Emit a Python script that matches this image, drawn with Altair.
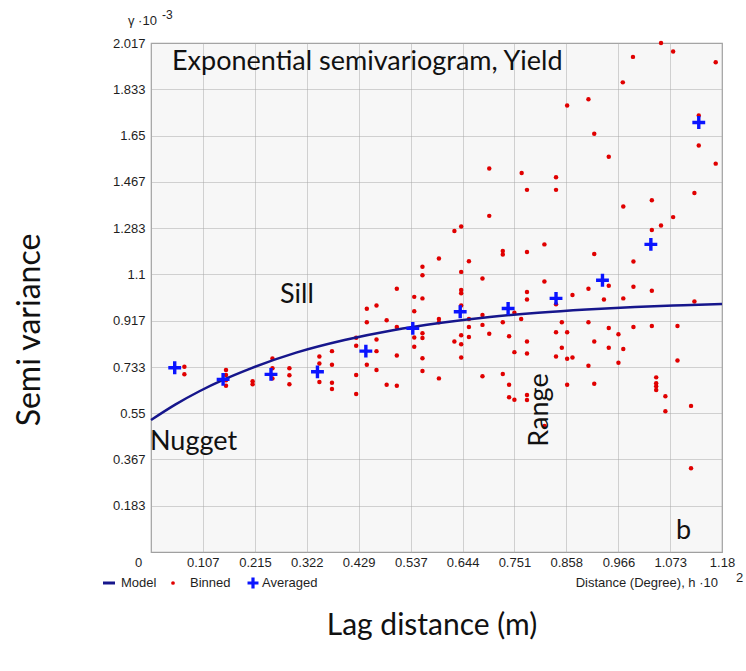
import altair as alt
import pandas as pd

# ---------------- data ----------------
binned_h = [0.069, 0.069, 0.155, 0.155, 0.155, 0.155, 0.210, 0.210, 0.251, 0.251,
            0.251, 0.286, 0.286, 0.286, 0.348, 0.348, 0.348, 0.374, 0.374, 0.374,
            0.374, 0.424, 0.424, 0.424, 0.424, 0.446, 0.446, 0.446, 0.466, 0.466,
            0.466, 0.466, 0.487, 0.487, 0.508, 0.508, 0.508, 0.508, 0.544, 0.544,
            0.544, 0.544, 0.561, 0.561, 0.561, 0.561, 0.561, 0.561, 0.561, 0.595,
            0.595, 0.595, 0.595, 0.641, 0.627, 0.699, 0.657, 0.641, 0.685, 0.641,
            0.641, 0.641, 0.627, 0.641, 0.641, 0.641, 0.657, 0.657, 0.657, 0.685,
            0.685, 0.685, 0.699, 0.727, 0.727, 0.727, 0.727, 0.740, 0.740, 0.740,
            0.751, 0.751, 0.751, 0.765, 0.777, 0.777, 0.777, 0.777, 0.777, 0.777,
            0.777, 0.813, 0.813, 0.813, 0.837, 0.837, 0.837, 0.849, 0.849, 0.860,
            0.860, 0.860, 0.871, 0.871, 0.904, 0.904, 0.904, 0.916, 0.916, 0.916,
            0.936, 0.946, 0.946, 0.946, 0.966, 0.966, 0.976, 0.976, 0.976, 0.997,
            0.997, 0.997, 1.035, 1.035, 1.035, 1.035, 1.054, 1.079, 1.088, 1.088,
            1.044, 1.044, 1.044, 1.044, 1.063, 1.063, 1.116, 1.116, 1.123, 1.123,
            1.054, 1.079, 0.996, 1.167, 0.975, 0.904, 0.860, 1.132, 0.916, 1.132,
            1.167, 0.946, 0.699, 0.766, 0.837, 0.777, 0.837]
binned_v = [0.734, 0.704, 0.721, 0.701, 0.681, 0.659, 0.677, 0.665, 0.767, 0.728,
            0.688, 0.728, 0.700, 0.665, 0.775, 0.747, 0.674, 0.796, 0.742, 0.671,
            0.646, 0.849, 0.817, 0.701, 0.626, 0.964, 0.910, 0.742, 0.977, 0.842,
            0.796, 0.721, 0.918, 0.663, 1.043, 0.892, 0.779, 0.659, 1.011, 0.954,
            0.850, 0.813, 1.130, 1.097, 1.005, 0.867, 0.848, 0.768, 0.717, 1.163,
            0.923, 0.910, 0.688, 1.290, 1.272, 1.332, 1.152, 1.110, 1.084, 1.038,
            1.025, 0.977, 0.834, 0.859, 0.823, 0.771, 0.923, 0.892, 0.852, 0.939,
            0.900, 0.696, 0.865, 1.193, 1.179, 0.910, 0.705, 0.855, 0.663, 0.613,
            0.948, 0.792, 0.603, 0.923, 1.189, 1.030, 1.001, 0.834, 0.787, 0.622,
            0.602, 1.219, 1.072, 0.499, 0.982, 0.871, 0.775, 0.910, 0.809, 0.871,
            0.766, 0.663, 1.018, 0.771, 1.043, 0.910, 0.738, 1.181, 0.834, 0.667,
            1.001, 1.055, 0.888, 0.809, 0.863, 0.750, 1.369, 1.005, 0.804, 1.151,
            1.051, 0.892, 1.394, 1.276, 1.035, 0.896, 1.294, 1.327, 0.896, 0.759,
            0.692, 0.669, 0.657, 0.642, 0.617, 0.558, 0.579, 0.332, 0.993, 1.423,
            2.017, 1.983, 1.962, 1.941, 1.861, 1.794, 1.769, 1.730, 1.657, 1.611,
            1.539, 1.566, 1.520, 1.502, 1.485, 1.435, 1.435]

avg_h = [0.049, 0.149, 0.248, 0.344, 0.444, 0.541, 0.639, 0.738, 0.837, 0.933, 1.033, 1.132]
avg_v = [0.730, 0.684, 0.704, 0.714, 0.796, 0.886, 0.952, 0.965, 1.005, 1.077, 1.219, 1.702]

model_h = [0.0, 0.05, 0.1, 0.15, 0.2, 0.3, 0.4, 0.5, 0.6, 0.7, 0.8, 0.9, 1.0, 1.1, 1.18]
model_v = [0.523, 0.584, 0.637, 0.683, 0.723, 0.790, 0.840, 0.879, 0.908, 0.931,
           0.948, 0.961, 0.971, 0.978, 0.983]

x_ticks = [0, 0.107, 0.215, 0.322, 0.429, 0.537, 0.644, 0.751, 0.858, 0.966, 1.073, 1.18]
y_ticks = [0.183, 0.367, 0.55, 0.733, 0.917, 1.1, 1.283, 1.467, 1.65, 1.833, 2.017]

binned = pd.DataFrame({"h": binned_h, "v": binned_v})
averaged = pd.DataFrame({"h": avg_h, "v": avg_v})
model = pd.DataFrame({"h": model_h, "v": model_v})

# ---------------- styling ----------------
W, H = 571, 509
PAD = {"left": 151, "top": 43, "right": 746 - 151 - W, "bottom": 671 - 43 - H}
AXFONT = "Liberation Sans"
BIG = "Lato"
NAVY = "#16168c"
RED = "#e00000"
BLUE = "#0a14ff"
TXT = "#1e1e1e"
PLUS = "M-1,0L1,0M0,-1L0,1"

xs = alt.Scale(domain=[0, 1.18], nice=False, zero=False)
ys = alt.Scale(domain=[0, 2.017], nice=False, zero=False)

xaxis = alt.Axis(values=x_ticks, format=".4~g", title=None, ticks=False, domain=False,
                 labelFont=AXFONT, labelFontSize=13, labelColor=TXT, labelPadding=4,
                 labelOffset={"condition": {"test": "datum.value === 0", "value": -13}, "value": 0},
                 gridColor="#a8a8a8", gridDash=[1, 1], gridWidth=1, labelFlush=False)
yaxis = alt.Axis(values=y_ticks, format=".4~g", title=None, ticks=False, domain=False,
                 labelFont=AXFONT, labelFontSize=13, labelColor=TXT, labelPadding=6,
                 gridColor="#a8a8a8", gridDash=[1, 1], gridWidth=1)

pts = alt.Chart(binned).mark_circle(color=RED, size=20, opacity=1).encode(
    x=alt.X("h:Q", scale=xs, axis=xaxis),
    y=alt.Y("v:Q", scale=ys, axis=yaxis),
)
line = alt.Chart(model).mark_line(color=NAVY, strokeWidth=2.5, interpolate="monotone").encode(
    x=alt.X("h:Q", scale=xs), y=alt.Y("v:Q", scale=ys)
)
avg = alt.Chart(averaged).mark_point(shape=PLUS, filled=False, color=BLUE, strokeWidth=3.4,
                                     size=165, opacity=1).encode(
    x=alt.X("h:Q", scale=xs), y=alt.Y("v:Q", scale=ys)
)

one = alt.Data(values=[{}])


def label(text, x, y, size, font=BIG, angle=0, align="left", baseline="alphabetic", color="#111111"):
    return alt.Chart(one).mark_text(align=align, baseline=baseline, fontSize=size, font=font,
                                    angle=angle, color=color).encode(
        text=alt.value(text), x=alt.value(x), y=alt.value(y))


texts = [
    label("Exponential semivariogram, Yield", 21, 27, 27),
    label("Sill", 129, 260, 27),
    label("Nugget", -1, 407, 27),
    label("Range", 397, 367, 27, angle=270, align="center"),
    label("b", 525, 496, 27),
    label("Semi variance", -111, 287, 32, angle=270, align="center"),
    label("Lag distance (m)", 281, 592, 30, align="center"),
    label("γ ·10", -23, -22, 13, font=AXFONT, baseline="middle", color=TXT),
    label("-3", 11, -28, 12, font=AXFONT, baseline="middle", color=TXT),
    label("Model", -30, 540, 13, font=AXFONT, baseline="middle", color=TXT),
    label("Binned", 39, 540, 13, font=AXFONT, baseline="middle", color=TXT),
    label("Averaged", 111, 540, 13, font=AXFONT, baseline="middle", color=TXT),
    label("Distance (Degree), h ·10", 567, 540, 13, font=AXFONT, align="right",
          baseline="middle", color=TXT),
    label("2", 585, 535, 13, font=AXFONT, baseline="middle", color=TXT),
]

leg_line = alt.Chart(one).mark_rule(color=NAVY, strokeWidth=3).encode(
    x=alt.value(-48), x2=alt.value(-36), y=alt.value(540))
leg_dot = alt.Chart(one).mark_circle(color=RED, size=14, opacity=1).encode(
    x=alt.value(22), y=alt.value(540))
leg_plus = alt.Chart(one).mark_point(shape=PLUS, filled=False, color=BLUE, strokeWidth=3.2,
                                     size=120, opacity=1).encode(
    x=alt.value(102), y=alt.value(540))

chart = alt.layer(pts, line, avg, leg_line, leg_dot, leg_plus, *texts).properties(
    width=W, height=H, padding=PAD, autosize=alt.AutoSizeParams(type="none"),
    background="white",
).configure_view(stroke="#a0a0a0", strokeWidth=1.2, fill="#f7f7f7")

chart.save("out.html", embed_options={"renderer": "svg", "actions": False})
